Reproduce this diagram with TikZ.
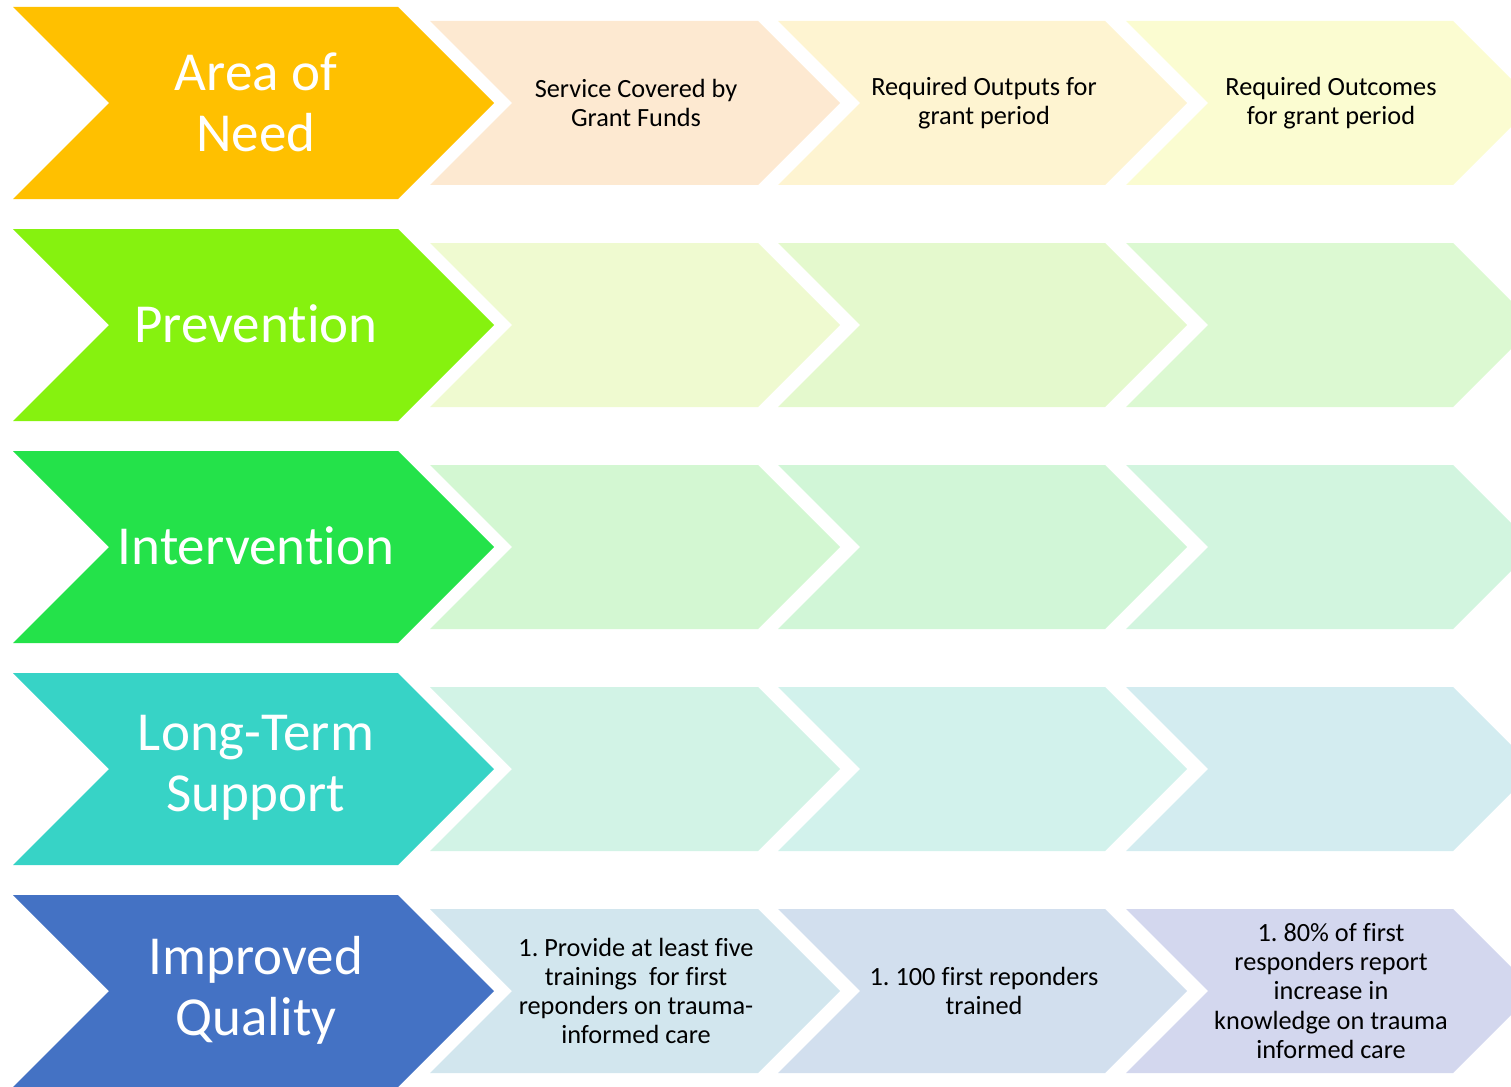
\documentclass[tikz,border=0pt]{standalone}
\usepackage{fontspec}
\setmainfont{Carlito}[Ligatures={NoCommon}]
\frenchspacing
\definecolor{bigA}{HTML}{FFC000}
\definecolor{bigB}{HTML}{86F20F}
\definecolor{bigC}{HTML}{24E24A}
\definecolor{bigD}{HTML}{37D3C6}
\definecolor{bigE}{HTML}{4472C4}
\definecolor{cAa}{HTML}{FDE9D1}
\definecolor{cAb}{HTML}{FEF4D1}
\definecolor{cAc}{HTML}{FBFCD1}
\definecolor{cBa}{HTML}{EFFAD0}
\definecolor{cBb}{HTML}{E4F9CD}
\definecolor{cBc}{HTML}{DCF9D2}
\definecolor{cCa}{HTML}{D3F7D2}
\definecolor{cCb}{HTML}{D1F6D7}
\definecolor{cCc}{HTML}{D2F5DF}
\definecolor{cDa}{HTML}{D2F3E6}
\definecolor{cDb}{HTML}{D2F2EC}
\definecolor{cDc}{HTML}{D3ECF0}
\definecolor{cEa}{HTML}{D2E6EE}
\definecolor{cEb}{HTML}{D2DFEE}
\definecolor{cEc}{HTML}{D3D7EE}
% chevron: x, ytop, top width, height, colour
\newcommand\mychev[5]{%
  \fill[#5] (#1,#2) -- ({#1+#3},#2) -- ({#1+#3+#4/2},{#2+#4/2}) -- ({#1+#3},{#2+#4})
    -- (#1,{#2+#4}) -- ({#1+#4/2},{#2+#4/2}) -- cycle;}
\tikzset{
  bigtext/.style={text=white, align=center, inner sep=0pt,
    font=\fontsize{55}{61}\selectfont},
  smalltext/.style={text=black, align=center, inner sep=0pt,
    font=\fontsize{26.3}{29.3}\selectfont},
}
\begin{document}
\begin{tikzpicture}[x=1pt,y=-1pt]
\useasboundingbox (0,0) rectangle (1511,1086);
\clip (0,0) rectangle (1511,1086);
\foreach \r/\rn in {0/A,1/B,2/C,3/D,4/E}{
  \pgfmathsetmacro\yt{7+222*\r}
  \pgfmathsetmacro\ys{21+222*\r}
  \mychev{13}{\yt}{385}{192}{big\rn}
  \mychev{430}{\ys}{328}{164}{c\rn a}
  \mychev{778}{\ys}{327}{164}{c\rn b}
  \mychev{1126}{\ys}{327}{164}{c\rn c}
}
% big labels
\node[bigtext] (big1) at (256,102) {Area of\\Need};
\node[bigtext] (big2) at (256,324) {Prevention};
\node[bigtext] (big3) at (256,546) {Intervention};
\node[bigtext] (big4) at (256,768) {Long-Term\\Support};
\node[bigtext] (big5) at (256,990) {Improved\\Quality};
% header row
\node[smalltext] (h1) at (636,103) {Service Covered by\\Grant Funds};
\node[smalltext] (h2) at (984,103) {Required Outputs for\\grant period};
\node[smalltext] (h3) at (1331,103) {Required Outcomes\\for grant period};
% improved quality row
\node[smalltext] (q1) at (636,991) {1. Provide at least five\\trainings\ \ for first\\reponders on trauma-\\informed care};
\node[smalltext] (q2) at (984,991) {1. 100 first reponders\\trained};
\node[smalltext] (q3) at (1331,991) {1. 80\% of first\\responders report\\increase in\\knowledge on trauma\\informed care};
\end{tikzpicture}
\end{document}
